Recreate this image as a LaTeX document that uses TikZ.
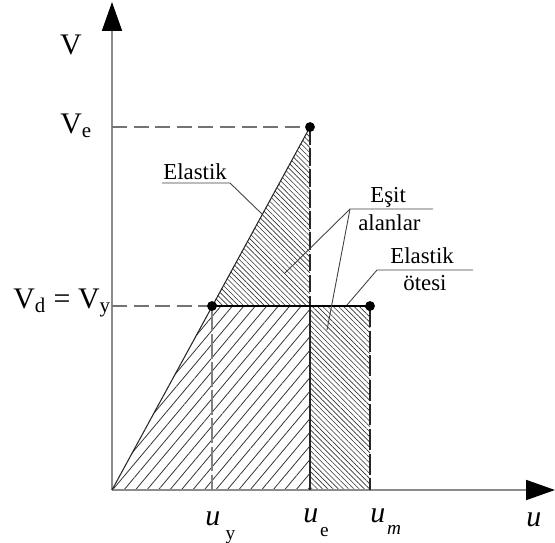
\documentclass[tikz,border=0pt]{standalone}
\usepackage{fontspec}
\setmainfont{Liberation Serif}
\usetikzlibrary{arrows.meta,patterns.meta}

\tikzset{
  axis/.style={line width=1.1pt,draw=black!45,-{Triangle[length=0.58cm,width=0.4cm,color=black]}},
  guide/.style={line width=0.75pt,draw=black!55,dash pattern=on 8.5pt off 3.8pt},
  edge/.style={line width=0.6pt,draw=black!85},
  leader/.style={line width=0.5pt,draw=black!75},
  sparse/.style={pattern={Lines[angle=50,distance=5pt,line width=0.45pt]},pattern color=black!80},
  dense/.style={pattern={Lines[angle=-45,distance=2.1pt,line width=0.35pt]},pattern color=black!80},
  dot/.style={fill=black},
  axlabel/.style={inner sep=0pt,font=\fontsize{17}{20}\selectfont},
  ulabel/.style={inner sep=0pt,anchor=base west,font=\fontsize{17}{20}\selectfont},
  note/.style={inner sep=0pt,anchor=base west,font=\fontsize{13}{15}\selectfont}
}

\begin{document}
\begin{tikzpicture}[x=0.02cm,y=-0.02cm,line cap=butt,line join=miter]
  \useasboundingbox (0,0) rectangle (555,542);
  % main points
  \coordinate (O) at (112,490);
  \coordinate (Ye) at (112,127);
  \coordinate (Yy) at (112,306);
  \coordinate (E) at (310,127);
  \coordinate (Y) at (212,306);
  \coordinate (Ey) at (310,306);
  \coordinate (M) at (370,306);
  \coordinate (Uy) at (212,490);
  \coordinate (Ue) at (310,490);
  \coordinate (Um) at (370,490);
  % hatched areas
  \fill[sparse] (O) -- (Y) -- (Ey) -- (Ue) -- cycle;
  \fill[dense] (Y) -- (E) -- (Ey) -- cycle;
  \fill[dense] (Ey) -- (M) -- (Um) -- (Ue) -- cycle;
  % axes
  \draw[axis] (O) -- (112,2);
  \draw[axis] (O) -- (555,490);
  % guide lines
  \draw[guide] (Ye) -- (E);
  \draw[guide] (Yy) -- (Y);
  \draw[guide,draw=black!50,dash pattern=on 14pt off 2pt] (Y) -- (Uy);
  \draw[edge,dash pattern=on 12pt off 2pt] (M) -- (Um);
  \draw[edge,dash pattern=on 10pt off 2pt] (E) -- (Ey);
  \draw[edge] (Ey) -- (Ue);
  \draw[edge] (O) -- (E);
  \draw[line width=1pt] (Y) -- (M);
  \fill[dot] (E) circle[radius=2.8pt];
  \fill[dot] (Y) circle[radius=2.8pt];
  \fill[dot] (M) circle[radius=2.8pt];
  % axis labels
  \node[axlabel] (vlab) at (71,45) {V};
  \node[ulabel] (velab) at (60,133) {V\textsubscript{e}};
  \node[ulabel] (vdlab) at (13,308) {V\textsubscript{d} = V\textsubscript{y}};
  \node[ulabel] (uylab) at (205,525) {\textit{u}\hspace{3pt}\raisebox{-8pt}{\fontsize{11}{11}\selectfont y}};
  \node[ulabel] (uelab) at (303,522) {\textit{u}\hspace{1pt}\raisebox{-8.5pt}{\fontsize{11}{11}\selectfont e}};
  \node[ulabel] (umlab) at (370,522) {\textit{u}\hspace{1pt}\raisebox{-7pt}{\fontsize{11}{11}\selectfont\textit{m}}};
  \node[ulabel] (ulab) at (526,526) {\textit{u}};
  % notes
  \node[note] (elastik) at (163,179) {Elastik};
  \node[note] (esit) at (370,202) {Eşit};
  \node[note] (alanlar) at (358,230) {alanlar};
  \node[note] (otesiA) at (390,263) {Elastik};
  \node[note] (otesiB) at (403,290) {ötesi};
  \coordinate (elL) at (162,183);
  \coordinate (elR) at (230,183);
  \coordinate (esL) at (350,209);
  \coordinate (esR) at (433,209);
  \coordinate (otL) at (377,270);
  \coordinate (otR) at (473,270);
  \draw[leader] (elL) -- (elR) -- (262,214);
  \draw[leader] (esR) -- (esL) -- (285,273);
  \draw[leader] (esL) -- (327,330);
  \draw[leader] (otR) -- (otL) -- (347,305);
\end{tikzpicture}
\end{document}
